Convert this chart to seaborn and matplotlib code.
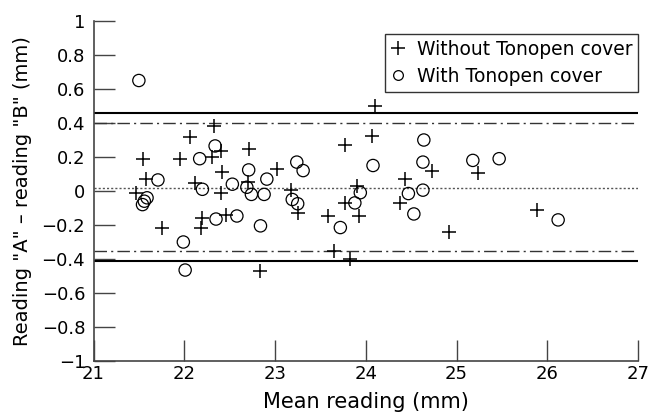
"""Bland-Altman style plot: reading A vs reading B, with and without Tonopen cover."""

import matplotlib
matplotlib.use("Agg")
import matplotlib.pyplot as plt
from matplotlib.lines import Line2D
from matplotlib.ticker import FuncFormatter
import pandas as pd
import seaborn as sns

# Without Tonopen cover (plus markers)
without_mean = [21.47, 21.55, 21.58, 21.75, 21.95, 22.06, 22.12, 22.19, 22.20, 22.31,
                22.33, 22.41, 22.42, 22.41, 22.46, 22.71, 22.70, 22.84, 23.02, 23.18,
                23.25, 23.58, 23.65, 23.77, 23.77, 23.83, 23.90, 23.93, 24.07, 24.10,
                24.38, 24.43, 24.73, 24.92, 25.24, 25.89]
without_diff = [-0.01, 0.19, 0.07, -0.22, 0.19, 0.32, 0.05, -0.22, -0.16, 0.20,
                0.38, 0.235, 0.11, -0.01, -0.14, 0.245, 0.055, -0.47, 0.13, 0.005,
                -0.13, -0.145, -0.355, 0.27, -0.07, -0.40, 0.03, -0.145, 0.325, 0.50,
                -0.07, 0.07, 0.115, -0.24, 0.105, -0.11]

# With Tonopen cover (open circles)
with_mean = [21.50, 21.54, 21.56, 21.59, 21.71, 21.99, 22.01, 22.17, 22.20, 22.34,
             22.35, 22.53, 22.58, 22.69, 22.71, 22.74, 22.84, 22.88, 22.91, 23.19,
             23.24, 23.25, 23.31, 23.72, 23.88, 23.94, 24.08, 24.47, 24.53, 24.63,
             24.63, 24.64, 25.18, 25.47, 26.12]
with_diff = [0.65, -0.08, -0.06, -0.04, 0.065, -0.30, -0.465, 0.19, 0.01, 0.265,
             -0.165, 0.04, -0.147, 0.022, 0.124, -0.02, -0.205, -0.02, 0.07, -0.05,
             0.17, -0.075, 0.12, -0.215, -0.07, -0.01, 0.15, -0.015, -0.135, 0.17,
             0.005, 0.30, 0.18, 0.19, -0.17]

# Limits of agreement
mean_diff = 0.02
limits_without = [0.46, -0.41]
limits_with = [0.40, -0.355]

x_ticks = [21, 22, 23, 24, 25, 26, 27]
y_ticks = [-1, -0.8, -0.6, -0.4, -0.2, 0, 0.2, 0.4, 0.6, 0.8, 1]

sns.set_theme(style="ticks")
plt.rcParams["font.family"] = ["DejaVu Sans"]
plt.rcParams["text.color"] = "black"
plt.rcParams["axes.labelcolor"] = "black"

df_without = pd.DataFrame({"mean": without_mean, "diff": without_diff})
df_with = pd.DataFrame({"mean": with_mean, "diff": with_diff})

fig = plt.figure(figsize=(6.52, 4.18), dpi=100)
ax = fig.add_axes([93.5 / 652, 57 / 418, (638 - 93.5) / 652, 340 / 418])

sns.scatterplot(data=df_without, x="mean", y="diff", marker="+", s=95,
                color="black", linewidth=1.1, ax=ax, zorder=3)
sns.scatterplot(data=df_with, x="mean", y="diff", marker="o", s=78,
                facecolors="none", edgecolor="black", linewidth=0.9, ax=ax, zorder=3)

for v in limits_without:
    ax.axhline(v, color="black", lw=1.5, zorder=2)
for v in limits_with:
    ax.axhline(v, color="#333333", lw=1.0, ls=(0, (9, 3, 1.5, 3)), zorder=2)
ax.axhline(mean_diff, color="#555555", lw=1.0, ls=(0, (1.5, 1.5)), zorder=2)

ax.set_xlim(21, 27)
ax.set_ylim(-1, 1)
ax.set_xticks(x_ticks)
ax.set_yticks(y_ticks)
fmt = FuncFormatter(lambda v, p: f"{v:g}".replace("-", "\u2212"))
ax.yaxis.set_major_formatter(fmt)
ax.xaxis.set_major_formatter(fmt)
ax.tick_params(direction="in", length=15, width=1, color="#444444",
               labelsize=13, labelcolor="black")
ax.tick_params(axis="y", pad=6)
ax.tick_params(axis="x", pad=3)

for side in ["top", "right"]:
    ax.spines[side].set_visible(False)
for side in ["left", "bottom"]:
    ax.spines[side].set_color("#444444")
    ax.spines[side].set_linewidth(1.2)

ax.set_xlabel("Mean reading (mm)", fontsize=15, labelpad=6)
ax.set_ylabel("Reading \"A\" \u2013 reading \"B\" (mm)", fontsize=14, labelpad=7)

handles = [
    Line2D([], [], marker="+", ls="none", color="black", markersize=10, mew=1.1),
    Line2D([], [], marker="o", ls="none", markerfacecolor="none",
           markeredgecolor="black", markersize=7, mew=0.9),
]
leg = ax.legend(handles, ["Without Tonopen cover", "With Tonopen cover"],
                loc="upper right", bbox_to_anchor=(1.0, 0.962), fontsize=13.5,
                frameon=True, fancybox=False, framealpha=1, edgecolor="#333333",
                handlelength=0.8, handletextpad=0.6, borderpad=0.3,
                labelspacing=0.45, borderaxespad=0)
leg.get_frame().set_linewidth(1.0)

fig.savefig("out.png", dpi=100)
